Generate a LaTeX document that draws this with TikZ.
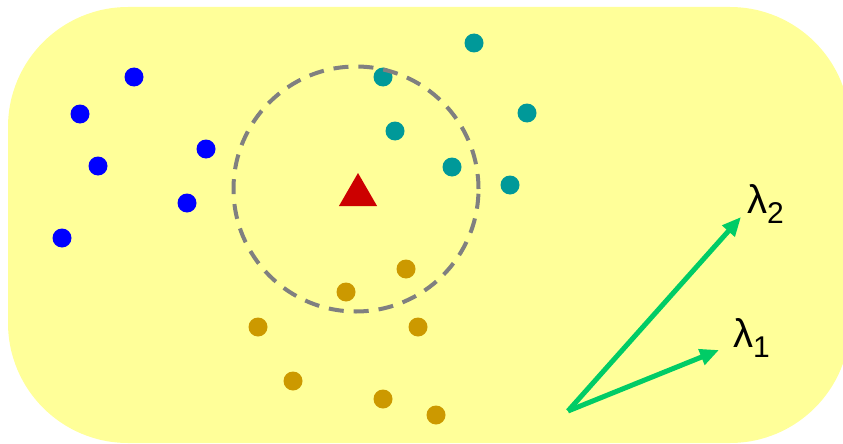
\documentclass[tikz,border=0pt]{standalone}
\usepackage{fontspec}
\setmainfont{Liberation Sans}
\usetikzlibrary{arrows.meta,shapes.geometric}
\definecolor{bgyellow}{RGB}{255,255,153}
\definecolor{dotblue}{RGB}{0,0,255}
\definecolor{dotteal}{RGB}{0,153,153}
\definecolor{dotgold}{RGB}{204,153,0}
\definecolor{trired}{RGB}{204,0,0}
\definecolor{arrgreen}{RGB}{0,204,102}
\definecolor{ringgray}{RGB}{128,128,128}
\tikzset{
  dot/.style={circle,inner sep=0pt,minimum size=19pt},
  bluedot/.style={dot,fill=dotblue},
  tealdot/.style={dot,fill=dotteal},
  golddot/.style={dot,fill=dotgold},
  vec/.style={draw=arrgreen,line width=5pt,-{Triangle[length=19pt,width=16pt]}},
  lab/.style={inner sep=0pt,font=\fontsize{40}{40}\selectfont},
}
\newcommand{\lsub}[1]{\raisebox{-10pt}{\fontsize{30}{30}\selectfont #1}}
\begin{document}
\begin{tikzpicture}[x=1pt,y=-1pt]
\useasboundingbox (0,0) rectangle (843,444);
\fill[bgyellow,rounded corners=120pt] (8,7) rectangle (850,443);
\node[isosceles triangle,isosceles triangle apex angle=60,shape border rotate=90,fill=trired,inner sep=0pt,minimum height=33pt,minimum width=38pt] (tri) at (358,195) {};
% blue
\node[bluedot] (b1) at (134,77) {};
\node[bluedot] (b2) at (80,114) {};
\node[bluedot] (b3) at (98,166) {};
\node[bluedot] (b4) at (206,149) {};
\node[bluedot] (b5) at (187,203) {};
\node[bluedot] (b6) at (62,238) {};
% teal
\node[tealdot] (t1) at (474,43) {};
\node[tealdot] (t2) at (383,77) {};
\node[tealdot] (t3) at (395,131) {};
\node[tealdot] (t4) at (527,113) {};
\node[tealdot] (t5) at (452,167) {};
\node[tealdot] (t6) at (510,185) {};
% gold
\node[golddot] (g1) at (406,269) {};
\node[golddot] (g2) at (346,292) {};
\node[golddot] (g3) at (258,327) {};
\node[golddot] (g4) at (418,327) {};
\node[golddot] (g5) at (293,381) {};
\node[golddot] (g6) at (383,399) {};
\node[golddot] (g7) at (436,415) {};
% ring on top
\node[draw=ringgray,line width=4pt,dash pattern=on 15pt off 10pt,circle,minimum size=245pt,inner sep=0pt] (ring) at (356,189) {};
% vectors
\coordinate (o) at (568,411);
\coordinate (e2) at (741,217);
\coordinate (e1) at (719,350);
\draw[vec] (o) -- (e2);
\draw[vec] (o) -- (e1);
\node[lab,anchor=base west] (l2) at (747,213) {λ\lsub{2}};
\node[lab,anchor=base west] (l1) at (733,347) {λ\lsub{1}};
\end{tikzpicture}
\end{document}
